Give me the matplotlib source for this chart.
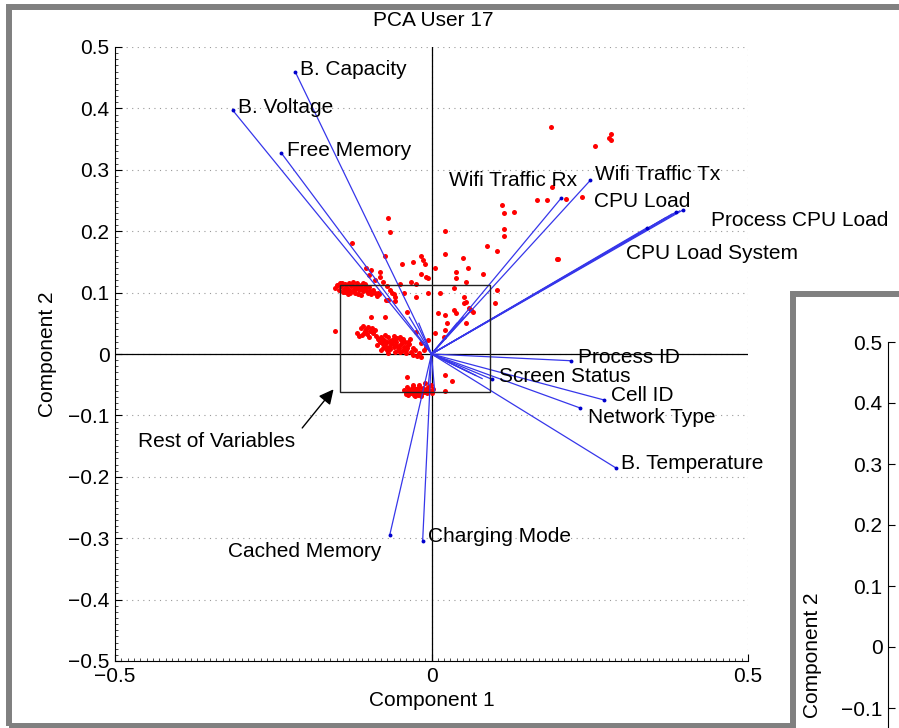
import matplotlib
matplotlib.use("Agg")
import matplotlib.pyplot as plt
from matplotlib.patches import Rectangle
from matplotlib.ticker import MultipleLocator

plt.rcParams['font.family'] = ['Liberation Sans', 'DejaVu Sans']
plt.rcParams['axes.unicode_minus'] = True

# variable loadings (labelled)
var_names = ["B. Capacity", "B. Voltage", "Free Memory", "Wifi Traffic Rx", "Wifi Traffic Tx",
             "CPU Load", "Process CPU Load", "CPU Load System", "Process ID", "Screen Status",
             "Cell ID", "Network Type", "B. Temperature", "Cached Memory", "Charging Mode"]
var_x = [-0.215, -0.314, -0.237, 0.205, 0.251, 0.386, 0.398, 0.341, 0.221, 0.095,
         0.273, 0.235, 0.292, -0.066, -0.014]
var_y = [0.459, 0.397, 0.327, 0.254, 0.283, 0.231, 0.235, 0.206, -0.011, -0.041,
         -0.075, -0.088, -0.186, -0.295, -0.305]
# label anchor (left edge, middle)
label_x = [-0.207, -0.305, -0.229, 0.028, 0.259, 0.256, 0.441, 0.308, 0.231, 0.106,
           0.283, 0.248, 0.300, -0.321, -0.005]
label_y = [0.463, 0.401, 0.332, 0.283, 0.292, 0.248, 0.218, 0.163, -0.005, -0.037,
           -0.068, -0.104, -0.179, -0.322, -0.298]

# the rest of the variables (short loadings, unlabelled)
rest_x = [0.392, 0.380, 0.370, -0.035, -0.020, 0.040, 0.050, 0.063, 0.060, 0.070, 0.080, 0.005, -0.005]
rest_y = [0.233, 0.228, 0.222, 0.060, 0.050, 0.050, 0.060, 0.072, -0.030, -0.035, -0.040, -0.060, -0.050]

# observation scores
obs_x = [
    # band around 0.11
    -0.152, -0.148, -0.146, -0.143, -0.141, -0.139, -0.137, -0.135, -0.133, -0.131,
    -0.129, -0.127, -0.125, -0.123, -0.121, -0.119, -0.117, -0.115, -0.113, -0.111,
    -0.109, -0.107, -0.105, -0.103, -0.101, -0.099, -0.097, -0.095, -0.092, -0.089,
    -0.086, -0.083, -0.140, -0.132, -0.124, -0.116, -0.108, -0.144, -0.128, -0.112,
    -0.150, -0.136, -0.130, -0.122, -0.118, -0.110, -0.104, -0.098, -0.134, -0.120,
    # middle blob
    -0.112, -0.108, -0.104, -0.100, -0.097, -0.094, -0.106, -0.110, -0.114, -0.102,
    -0.098, -0.092, -0.088, -0.117, -0.085, -0.082, -0.080, -0.077, -0.075, -0.072,
    -0.070, -0.068, -0.066, -0.064, -0.062, -0.060, -0.058, -0.056, -0.054, -0.052,
    -0.050, -0.048, -0.046, -0.044, -0.042, -0.040, -0.038, -0.036, -0.034, -0.060,
    -0.050, -0.074, -0.086, -0.079, -0.069, -0.045, -0.032, -0.029, -0.026, -0.023,
    -0.020, -0.017, -0.030, -0.012, -0.008,
    -0.083, -0.078, -0.073, -0.067, -0.063, -0.057, -0.053, -0.047, -0.043, -0.039,
    -0.071, -0.065, -0.055, -0.049, -0.041, -0.037, -0.059, -0.076, -0.090, -0.105,
    # bottom cluster
    -0.044, -0.041, -0.039, -0.037, -0.035, -0.033, -0.031, -0.029, -0.027, -0.025,
    -0.023, -0.021, -0.019, -0.017, -0.015, -0.013, -0.011, -0.009, -0.007, -0.005,
    -0.003, -0.001, 0.002, -0.020, -0.030, -0.010, -0.040, -0.026, -0.016, 0.000,
    -0.036, -0.028, -0.022, -0.014, -0.006,
    # scattered
    0.188, 0.284, 0.280, 0.284, 0.259, 0.190, 0.237, 0.212, 0.166, 0.183,
    0.111, 0.114, 0.131, 0.114, 0.115, 0.088, 0.104, 0.199, -0.069, -0.065,
    -0.126, 0.021, -0.073, -0.046, -0.030, -0.016, -0.013, -0.011, 0.021, 0.006,
    0.049, 0.057, 0.039, 0.082, -0.017, -0.009, -0.005, -0.081, -0.096, -0.032,
    -0.025, -0.049, 0.038, 0.054, 0.103, 0.101, -0.005, 0.014, 0.035, 0.051,
    0.055, -0.063, -0.057, -0.044, -0.025, -0.104, -0.098, -0.090, -0.082, -0.076,
    -0.071, -0.065, -0.060, -0.072, -0.058, -0.084, -0.068, -0.153, -0.095, -0.073,
    -0.039, 0.022, 0.022, 0.032, -0.039, -0.024, -0.017, 0.011, 0.022, 0.024,
    0.022, 0.035, 0.038, 0.054, 0.052, 0.019, -0.005, 0.006, 0.063, 0.066,
    0.060, 0.200,
]
obs_y = [
    0.108, 0.112, 0.104, 0.110, 0.115, 0.106, 0.101, 0.112, 0.108, 0.116,
    0.103, 0.110, 0.113, 0.106, 0.100, 0.111, 0.115, 0.104, 0.109, 0.112,
    0.102, 0.107, 0.114, 0.105, 0.099, 0.109, 0.103, 0.097, 0.104, 0.100,
    0.094, 0.098, 0.101, 0.097, 0.117, 0.098, 0.116, 0.116, 0.099, 0.096,
    0.113, 0.114, 0.105, 0.103, 0.108, 0.106, 0.110, 0.101, 0.102, 0.107,
    0.042, 0.046, 0.040, 0.044, 0.038, 0.042, 0.035, 0.031, 0.030, 0.033,
    0.028, 0.034, 0.030, 0.034, 0.025, 0.020, 0.028, 0.016, 0.023, 0.012,
    0.020, 0.027, 0.008, 0.016, 0.023, 0.011, 0.004, 0.019, 0.026, 0.009,
    0.015, 0.022, 0.005, 0.012, 0.019, 0.002, 0.009, 0.016, 0.024, 0.030,
    0.028, 0.031, 0.014, 0.006, 0.002, 0.025, 0.004, -0.001, 0.006, -0.003,
    0.002, -0.005, 0.010, 0.006, 0.012,
    0.022, 0.025, 0.017, 0.012, 0.019, 0.014, 0.006, 0.018, 0.008, 0.013,
    0.006, 0.021, 0.013, 0.004, 0.007, 0.020, 0.024, 0.010, 0.039, 0.037,
    -0.058, -0.062, -0.054, -0.066, -0.059, -0.063, -0.055, -0.061, -0.067, -0.057,
    -0.063, -0.059, -0.053, -0.065, -0.060, -0.056, -0.062, -0.058, -0.064, -0.054,
    -0.060, -0.050, -0.057, -0.050, -0.050, -0.047, -0.065, -0.068, -0.068, -0.064,
    -0.061, -0.056, -0.066, -0.062, -0.059,
    0.370, 0.358, 0.352, 0.349, 0.339, 0.272, 0.256, 0.252, 0.251, 0.251,
    0.243, 0.230, 0.231, 0.204, 0.192, 0.176, 0.168, 0.155, 0.222, 0.199,
    0.181, 0.200, 0.160, 0.147, 0.150, 0.160, 0.153, 0.147, 0.163, 0.140,
    0.156, 0.140, 0.134, 0.130, 0.130, 0.125, 0.124, 0.134, 0.137, 0.117,
    0.114, 0.114, 0.124, 0.117, 0.104, 0.083, 0.099, 0.099, 0.107, 0.093,
    0.085, 0.099, 0.093, 0.099, 0.093, 0.140, 0.128, 0.120, 0.126, 0.118,
    0.110, 0.104, 0.098, 0.088, 0.086, 0.099, 0.088, 0.037, 0.060, 0.060,
    -0.037, -0.034, -0.060, -0.044, 0.068, 0.036, 0.018, 0.067, 0.064, 0.050,
    0.039, 0.072, 0.067, 0.050, 0.083, 0.028, 0.023, 0.034, 0.072, 0.069,
    0.075, 0.155,
]

# zoom box and arrow
box_x = [-0.144, 0.093]
box_y = [-0.062, 0.112]
arrow_tip = (-0.152, -0.054)
arrow_tail = (-0.207, -0.124)
rest_label = (-0.463, -0.143)

y_ticks = [-0.5, -0.4, -0.3, -0.2, -0.1, 0, 0.1, 0.2, 0.3, 0.4, 0.5]
y_tick_labels = ['\u22120.5', '\u22120.4', '\u22120.3', '\u22120.2', '\u22120.1', '0',
                 '0.1', '0.2', '0.3', '0.4', '0.5']
x_ticks = [-0.5, 0, 0.5]
x_tick_labels = ['\u22120.5', '0', '0.5']

W, H = 899, 728
fig = plt.figure(figsize=(W / 100, H / 100), dpi=100)
fig.patch.set_facecolor('white')

frame_gray = '#808080'
# outer frame of first panel
fig.patches.append(Rectangle((9 / W, 1 - 726 / H), 1.2, (726 - 7) / H, transform=fig.transFigure,
                             fill=False, edgecolor=frame_gray, lw=4.3, zorder=1))

ax = fig.add_axes([115 / W, 1 - 661 / H, 633 / W, 614 / H])
ax.set_xlim(-0.5, 0.5)
ax.set_ylim(-0.5, 0.5)
ax.set_xticks(x_ticks)
ax.set_yticks(y_ticks)
ax.set_xticklabels(x_tick_labels)
ax.set_yticklabels(y_tick_labels)
ax.xaxis.set_minor_locator(MultipleLocator(0.01))
ax.yaxis.set_minor_locator(MultipleLocator(0.01))
ax.tick_params(which='major', direction='in', length=5, width=0.8, labelsize=15, pad=4)
ax.tick_params(which='minor', direction='in', length=2.5, width=0.5)
for s in ['top', 'right']:
    ax.spines[s].set_visible(False)
ax.grid(True, which='major', color='#999999', linestyle=(0, (1, 4)), lw=0.8)
ax.axhline(0, color='black', lw=0.9, zorder=2)
ax.axvline(0, color='black', lw=0.9, zorder=2)

ax.plot(obs_x, obs_y, 'o', color='red', ms=3.6, mec='none', zorder=2.5)

line_blue = '#3636ea'
for x, y in zip(rest_x, rest_y):
    ax.plot([0, x], [0, y], color=line_blue, lw=0.9, zorder=3)
for x, y in zip(var_x, var_y):
    ax.plot([0, x], [0, y], color=line_blue, lw=0.9, zorder=3)
ax.plot(var_x, var_y, 'o', color='#0000cc', ms=2.8, mec='none', zorder=4)
for name, lx, ly in zip(var_names, label_x, label_y):
    ax.text(lx, ly, name, fontsize=15, ha='left', va='center', zorder=5, clip_on=False)

ax.add_patch(Rectangle((box_x[0], box_y[0]), box_x[1] - box_x[0], box_y[1] - box_y[0],
                       fill=False, edgecolor='#222222', lw=1.0, zorder=4))
ax.annotate('', xy=arrow_tip, xytext=arrow_tail,
            arrowprops=dict(arrowstyle='-|>', color='black', lw=1.0, mutation_scale=22))
ax.text(rest_label[0], rest_label[1], 'Rest of Variables', fontsize=15, ha='left', va='center')

ax.set_xlabel('Component 1', fontsize=15, labelpad=4)
ax.set_ylabel('Component 2', fontsize=15, labelpad=8)
fig.text(433 / W, 1 - 20 / H, 'PCA User 17', fontsize=15, ha='center', va='center')

# second panel peeking in on the right
fig.patches.append(Rectangle((793 / W, 1 - 1000 / H), 1.0, (1000 - 294) / H, transform=fig.transFigure,
                             facecolor='white', edgecolor=frame_gray, lw=4.3, zorder=1.5))
ax2 = fig.add_axes([888 / W, 1 - 952 / H, 0.5, 610 / H], zorder=2)
ax2.set_ylim(-0.5, 0.5)
ax2.set_xlim(0, 1)
# only the ticks that are visible inside the picture get labels
ax2.set_yticks(y_ticks[4:])
ax2.set_yticklabels(y_tick_labels[4:])
ax2.set_xticks([])
ax2.tick_params(direction='in', length=5, width=0.8, labelsize=15, pad=4)
for s in ['top', 'right', 'bottom']:
    ax2.spines[s].set_visible(False)
ax2.grid(True, axis='y', color='#999999', linestyle=(0, (1, 4)), lw=0.8)
fig.text(812 / W, 1 - 655 / H, 'Component 2', fontsize=15, rotation=90, ha='center', va='center', zorder=3)

fig.savefig('out.png', dpi=100)
